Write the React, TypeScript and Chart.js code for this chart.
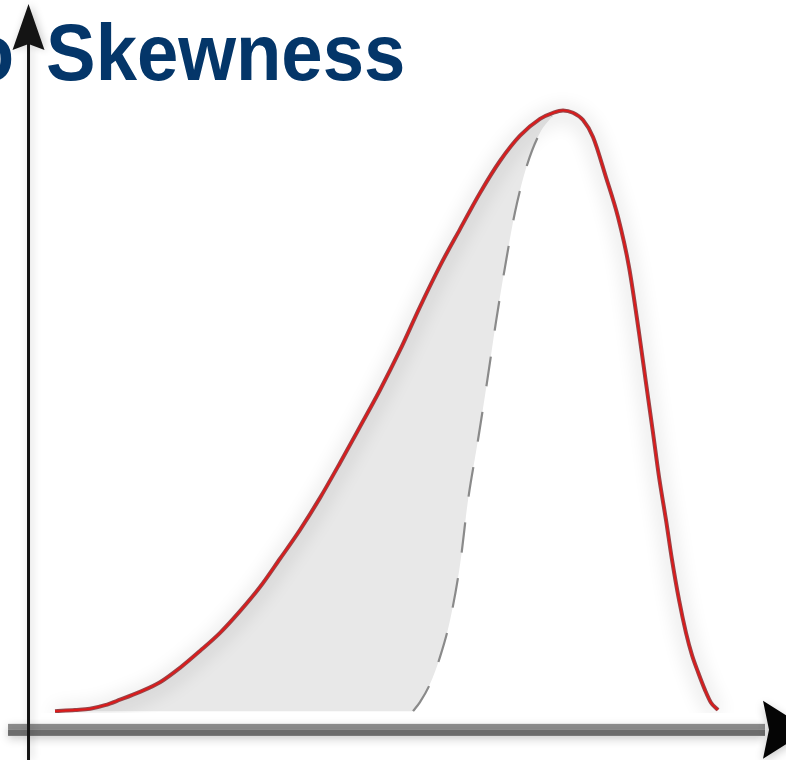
import React, { useEffect, useRef } from "react";
import { Chart, registerables } from "chart.js";

Chart.register(...registerables);

// ---- text ----
const TITLE = "Skewness";
const TITLE_PREFIX = "to";

// ---- data (x: abstract value axis 0..10, y: relative density 0..1) ----
const curveX = [
  0.338, 0.608, 0.811, 1.014, 1.216, 1.486, 1.757, 2.027, 2.297, 2.568, 2.838, 3.108,
  3.378, 3.649, 3.919, 4.189, 4.459, 4.73, 5.0, 5.27, 5.541, 5.811, 6.081, 6.351,
  6.622, 6.892, 7.068, 7.203, 7.338, 7.473, 7.608, 7.784, 7.946, 8.095, 8.23, 8.324,
  8.419, 8.5, 8.595, 8.676, 8.77, 8.865, 8.946, 9.027, 9.122, 9.203, 9.297,
];
const curveY = [
  0.003, 0.005, 0.007, 0.013, 0.022, 0.035, 0.051, 0.075, 0.103, 0.133, 0.169, 0.209,
  0.256, 0.304, 0.357, 0.415, 0.475, 0.536, 0.602, 0.674, 0.742, 0.803, 0.863, 0.916,
  0.958, 0.986, 0.996, 1.0, 0.996, 0.984, 0.956, 0.889, 0.823, 0.74, 0.631, 0.548,
  0.465, 0.392, 0.32, 0.254, 0.188, 0.133, 0.096, 0.068, 0.038, 0.017, 0.005,
];
const dashX = [
  5.176, 5.27, 5.405, 5.541, 5.676, 5.811, 5.919, 6.054, 6.176, 6.297, 6.419, 6.554,
  6.716, 6.892, 7.054,
];
const dashY = [
  0.003, 0.018, 0.048, 0.093, 0.154, 0.246, 0.353, 0.453, 0.549, 0.649, 0.74, 0.831,
  0.909, 0.963, 0.99,
];
const baseX = [0.338, 2.5, 4.5];
const baseY = [0.003, 0.003, 0.003];

// axis positions in data units
const AXIS_X0 = -0.02;
const AXIS_Y0 = -0.028;
const AXIS_X_START = -0.297;

const toPts = (xs: number[], ys: number[]) => xs.map((x, i) => ({ x, y: ys[i] }));

const RED_OUTLINE = 1;

const decor = {
  id: "decor",
  beforeDatasetsDraw(chart: any) {
    const ctx = chart.ctx as CanvasRenderingContext2D;
    ctx.save();
    ctx.fillStyle = "#043669";
    ctx.font = 'bold 79px "Liberation Sans", Arial, sans-serif';
    ctx.textBaseline = "alphabetic";
    ctx.translate(48, 80);
    ctx.scale(0.94, 1);
    ctx.textAlign = "left";
    ctx.fillText(TITLE, -2, 0);
    ctx.textAlign = "right";
    ctx.fillText(TITLE_PREFIX, -36, 0);
    ctx.restore();
  },
  beforeDatasetDraw(chart: any, args: any) {
    if (args.index === RED_OUTLINE) {
      const ctx = chart.ctx as CanvasRenderingContext2D;
      ctx.save();
      ctx.shadowColor = "rgba(0,0,0,0.32)";
      ctx.shadowBlur = 20;
      ctx.shadowOffsetY = 3;
    }
  },
  afterDatasetDraw(chart: any, args: any) {
    if (args.index === RED_OUTLINE) chart.ctx.restore();
  },
  afterDatasetsDraw(chart: any) {
    const ctx = chart.ctx as CanvasRenderingContext2D;
    const xs = chart.scales.x;
    const ys = chart.scales.y;
    const ax = xs.getPixelForValue(AXIS_X0);
    const ay = ys.getPixelForValue(AXIS_Y0);
    const hStart = xs.getPixelForValue(AXIS_X_START);
    const arrowBase = xs.getPixelForValue(10) - 7;
    const H = chart.height;

    ctx.save();
    ctx.shadowColor = "rgba(0,0,0,0.22)";
    ctx.shadowBlur = 10;
    ctx.shadowOffsetY = 3;
    // horizontal axis (two-tone bar)
    ctx.fillStyle = "#8b8b8b";
    ctx.fillRect(hStart, ay - 6, arrowBase - hStart + 2, 6);
    ctx.fillStyle = "#6c6c6c";
    ctx.fillRect(hStart, ay, arrowBase - hStart + 2, 6);
    // horizontal arrow head
    ctx.fillStyle = "#050505";
    ctx.beginPath();
    ctx.moveTo(arrowBase + 46, ay);
    ctx.lineTo(arrowBase, ay - 29);
    ctx.lineTo(arrowBase + 6, ay);
    ctx.lineTo(arrowBase, ay + 29);
    ctx.closePath();
    ctx.fill();
    ctx.restore();

    ctx.save();
    ctx.shadowColor = "rgba(0,0,0,0.2)";
    ctx.shadowBlur = 8;
    ctx.shadowOffsetX = 2;
    // vertical axis
    ctx.fillStyle = "#141414";
    ctx.fillRect(ax - 1.5, 44, 3, H - 44);
    ctx.beginPath();
    ctx.moveTo(ax, 4);
    ctx.lineTo(ax + 16, 50);
    ctx.lineTo(ax, 44);
    ctx.lineTo(ax - 16, 50);
    ctx.closePath();
    ctx.fill();
    ctx.restore();
  },
};

export default function App() {
  const ref = useRef<HTMLCanvasElement>(null);
  useEffect(() => {
    if (!ref.current) return;
    const boundary = [...toPts(baseX, baseY), ...toPts(dashX, dashY)];
    const curve = toPts(curveX, curveY);
    const chart = new Chart(ref.current, {
      type: "line",
      data: {
        datasets: [
          {
            label: "boundary",
            data: boundary,
            borderWidth: 0,
            borderColor: "rgba(0,0,0,0)",
            pointRadius: 0,
            fill: false,
            order: 5,
          },
          {
            label: "distribution outline",
            data: curve,
            borderColor: "#984448",
            borderWidth: 4,
            pointRadius: 0,
            fill: { target: 0 },
            backgroundColor: "#e8e8e8",
            order: 4,
          },
          {
            label: "symmetric reference",
            data: toPts(dashX, dashY),
            borderColor: "#8a8a8a",
            borderWidth: 2.2,
            borderDash: [30, 26],
            pointRadius: 0,
            fill: false,
            order: 2,
          },
          {
            label: "distribution",
            data: curve,
            borderColor: "#e01818",
            borderWidth: 1.8,
            pointRadius: 0,
            fill: false,
            order: 1,
          },
        ],
      },
      options: {
        animation: false,
        responsive: false,
        maintainAspectRatio: false,
        layout: { padding: { left: 30, right: 16, top: 20, bottom: 47 } },
        elements: { line: { cubicInterpolationMode: "monotone" } },
        scales: {
          x: { type: "linear", min: 0, max: 10, display: false },
          y: { type: "linear", min: 0, max: 1.15, display: false },
        },
        plugins: {
          legend: { display: false },
          tooltip: { enabled: false },
          title: { display: false },
        },
      },
      plugins: [decor],
    } as any);
    return () => chart.destroy();
  }, []);
  return (
    <div style={{ position: "fixed", left: 0, top: 0, width: 786, height: 760, background: "#fff" }}>
      <canvas ref={ref} width={786} height={760} />
    </div>
  );
}
